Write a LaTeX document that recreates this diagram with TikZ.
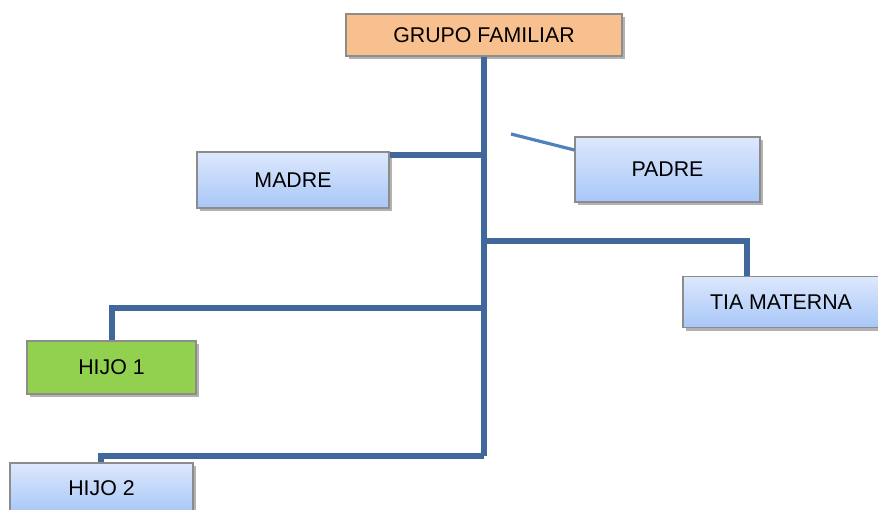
\documentclass[tikz,border=0pt]{standalone}
\usepackage{fontspec}
\setmainfont{Liberation Sans}
\usetikzlibrary{shadows}
\definecolor{lineblue}{HTML}{41689A}
\definecolor{thinblue}{HTML}{4F81BD}
\definecolor{peach}{HTML}{F8BF8F}
\definecolor{boxtop}{HTML}{DDE8FC}
\definecolor{boxbot}{HTML}{A8C7F8}
\definecolor{leaf}{HTML}{92D050}
\definecolor{edge}{HTML}{8C8C8C}
\begin{document}
\begin{tikzpicture}[x=0.75pt,y=-0.75pt,
  famnode/.style={draw=edge,line width=0.8pt,rectangle,inner sep=0pt,
    font=\fontsize{16}{19}\selectfont,text=black,
    drop shadow={shadow xshift=2.5pt,shadow yshift=-2.5pt,fill=black,opacity=0.3}},
  bluebox/.style={famnode,top color=boxtop,bottom color=boxbot},
  link/.style={draw=lineblue,line width=3.8pt},
  thinlink/.style={draw=thinblue,line width=2.4pt}]
\useasboundingbox (0,0) rectangle (878,510);
% nodes (positions in px)
\node[famnode,fill=peach,minimum width=276*0.75pt,minimum height=42*0.75pt] (gf) at (484,35) {GRUPO FAMILIAR};
\node[bluebox,minimum width=192*0.75pt,minimum height=56*0.75pt] (madre) at (293,180) {MADRE};
\node[bluebox,minimum width=185*0.75pt,minimum height=65*0.75pt] (padre) at (667.5,169.5) {PADRE};
\node[bluebox,minimum width=196*0.75pt,minimum height=51*0.75pt] (tia) at (781,302) {TIA MATERNA};
\node[famnode,fill=leaf,minimum width=169*0.75pt,minimum height=53*0.75pt] (h1) at (111.5,367.5) {HIJO 1};
\node[bluebox,minimum width=183*0.75pt,minimum height=50*0.75pt] (h2) at (101.5,488) {HIJO 2};
% junction coordinates
\coordinate (jm) at (484,155);
\coordinate (jt) at (484,241);
\coordinate (jh1) at (484,308);
\coordinate (jh2) at (484,456);
\coordinate (pfree) at (511,134);
% connectors
\draw[link] (gf.south) -- (jh2);
\draw[link] (madre.east |- jm) -- (jm);
\draw[link] (jt) -| (tia.north -| 747,0);
\draw[link] (jh1) -| (h1.north -| 112,0);
\draw[link] (jh2) -| (h2.north -| 101,0);
\draw[thinlink] (pfree) -- (padre.north west |- 0,150);
\end{tikzpicture}
\end{document}
